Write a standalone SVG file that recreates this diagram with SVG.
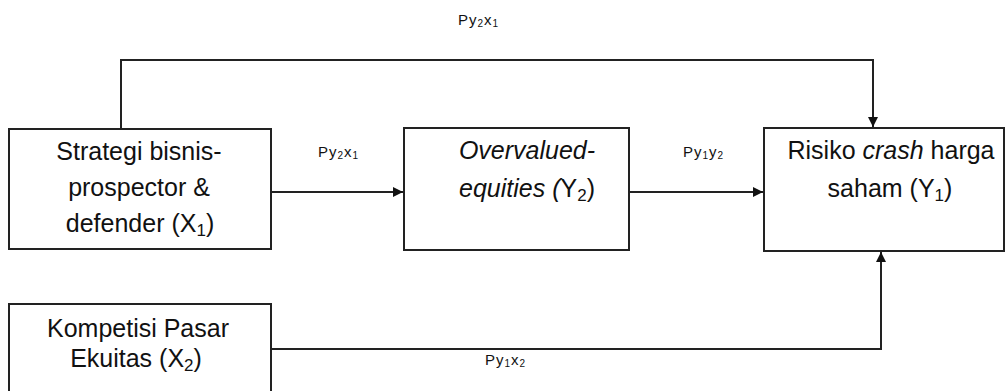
<svg xmlns="http://www.w3.org/2000/svg" width="1007" height="391" viewBox="0 0 1007 391">
<style>
.box{fill:#fff;stroke:#222;stroke-width:2}
.t{font-family:"Liberation Sans",Arial,sans-serif;font-size:25px;fill:#111;text-anchor:middle}
.s{font-family:"Liberation Sans",Arial,sans-serif;font-size:15px;fill:#111;letter-spacing:1px}
.c{fill:none;stroke:#222;stroke-width:2}
</style>
<defs>
<marker id="ah" viewBox="0 0 10 10" refX="10" refY="5" markerWidth="10" markerHeight="10" markerUnits="userSpaceOnUse" orient="auto">
<path d="M0,0 L10,5 L0,10 z" fill="#111"/>
</marker>
</defs>
<g id="connectors">
<path class="c" d="M121,129 V60 H873 V127" marker-end="url(#ah)"/>
<path class="c" d="M271,349 H881 V252" marker-end="url(#ah)"/>
<path class="c" d="M271,192 H403" marker-end="url(#ah)"/>
<path class="c" d="M629,192 H763" marker-end="url(#ah)"/>
<text class="s" x="458" y="25">Py<tspan font-size="10" dy="2">2</tspan><tspan dy="-2">x</tspan><tspan font-size="10" dy="2">1</tspan></text>
<text class="s" x="318" y="157">Py<tspan font-size="10" dy="2">2</tspan><tspan dy="-2">x</tspan><tspan font-size="10" dy="2">1</tspan></text>
<text class="s" x="683" y="157">Py<tspan font-size="10" dy="2">1</tspan><tspan dy="-2">y</tspan><tspan font-size="10" dy="2">2</tspan></text>
<text class="s" x="485" y="365">Py<tspan font-size="10" dy="2">1</tspan><tspan dy="-2">x</tspan><tspan font-size="10" dy="2">2</tspan></text>
</g>
<g id="node-x1">
<rect class="box" x="9" y="129" width="262" height="120"/>
<text class="t" x="139" y="160">Strategi bisnis-</text>
<text class="t" x="139" y="196">prospector &amp;</text>
<text class="t" x="140" y="232">defender (X<tspan font-size="17" dy="4">1</tspan><tspan dy="-4">)</tspan></text>
</g>
<g id="node-y2">
<rect class="box" x="404" y="128" width="225" height="122"/>
<text class="t" x="527" y="159" font-style="italic">Overvalued-</text>
<text class="t" x="527" y="197"><tspan font-style="italic">equities (</tspan>Y<tspan font-size="17" dy="4">2</tspan><tspan dy="-4">)</tspan></text>
</g>
<g id="node-y1">
<rect class="box" x="764" y="128" width="240" height="123"/>
<text class="t" x="891" y="159">Risiko <tspan font-style="italic">crash</tspan> harga</text>
<text class="t" x="890" y="197">saham (Y<tspan font-size="17" dy="4">1</tspan><tspan dy="-4">)</tspan></text>
</g>
<g id="node-x2">
<rect class="box" x="9" y="304" width="262" height="100"/>
<text class="t" x="138" y="337">Kompetisi Pasar</text>
<text class="t" x="136" y="367">Ekuitas (X<tspan font-size="17" dy="4">2</tspan><tspan dy="-4">)</tspan></text>
</g>
</svg>
